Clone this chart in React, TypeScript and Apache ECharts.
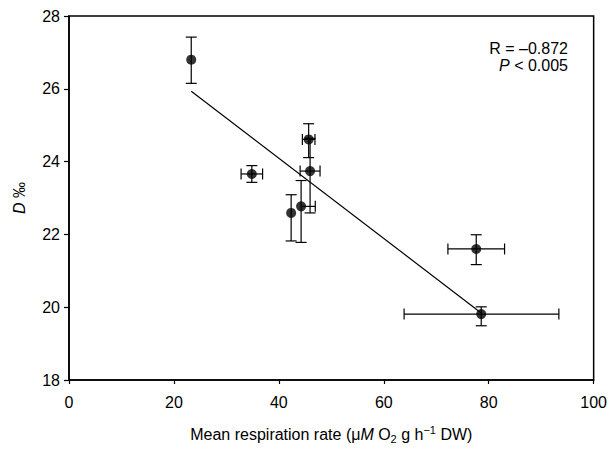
import React, { useEffect, useRef } from "react";
import * as echarts from "echarts";

// Mean respiration rate (x) and D ‰ (y)
const xVals = [23.3, 34.85, 45.68, 45.95, 44.24, 42.34, 77.62, 78.57];
const yVals = [26.8, 23.66, 24.61, 23.74, 22.77, 22.59, 21.6, 19.81];
const xErrLow = [0, 2.05, 1.2, 1.9, 0, 0, 5.4, 14.7];
const xErrHigh = [0, 2.05, 1.2, 1.9, 2.7, 0, 5.4, 14.8];
const yErrLow = [0.65, 0.23, 0.5, 1.15, 0.99, 0.77, 0.43, 0.32];
const yErrHigh = [0.62, 0.23, 0.43, 0.9, 0.71, 0.5, 0.39, 0.2];

// Regression line end points
const trendX = [23.3, 78.5];
const trendY = [25.93, 19.85];

const xTicks = [0, 20, 40, 60, 80, 100];
const yTicks = [18, 20, 22, 24, 26, 28];

const FONT = "'Liberation Sans', Arial, sans-serif";

export default function App() {
  const ref = useRef<HTMLDivElement>(null);
  useEffect(() => {
    if (!ref.current) return;
    const chart = echarts.init(ref.current, undefined, { renderer: "svg" });
    const errData = xVals.map((x, i) => [x, yVals[i], xErrLow[i], xErrHigh[i], yErrLow[i], yErrHigh[i]]);
    const pts = xVals.map((x, i) => [x, yVals[i]]);
    const trend = trendX.map((x, i) => [x, trendY[i]]);
    const lineStyle = { stroke: "#000", lineWidth: 1.2 };
    const cap = 5.5;
    chart.setOption({
      animation: false,
      textStyle: { fontFamily: FONT },
      grid: {
        left: 69,
        right: 15,
        top: 16,
        bottom: 65,
        show: true,
        borderColor: "#000",
        borderWidth: 1.5,
      },
      xAxis: {
        type: "value",
        min: xTicks[0],
        max: xTicks[xTicks.length - 1],
        interval: 20,
        splitLine: { show: false },
        axisLine: { show: true, lineStyle: { color: "#000", width: 1.5 } },
        axisTick: { show: true, length: 4, lineStyle: { color: "#000", width: 1.2 } },
        axisLabel: { color: "#000", fontSize: 16, margin: 14, fontFamily: FONT },
        name: "Mean respiration rate (μ{i|M} O{sub|2} g h{sup|−1} DW)",
        nameLocation: "middle",
        nameGap: 44,
        nameTextStyle: {
          color: "#000",
          fontSize: 16,
          fontFamily: FONT,
          lineHeight: 20,
          rich: {
            i: { fontStyle: "italic", fontSize: 16, color: "#000", fontFamily: FONT, lineHeight: 20 },
            sub: { fontSize: 11, color: "#000", fontFamily: FONT, verticalAlign: "bottom", lineHeight: 12, padding: [6, 0, 0, 0] },
            sup: { fontSize: 11, color: "#000", fontFamily: FONT, verticalAlign: "top", lineHeight: 12 },
          },
        },
      },
      yAxis: {
        type: "value",
        min: yTicks[0],
        max: yTicks[yTicks.length - 1],
        interval: 2,
        splitLine: { show: false },
        axisLine: { show: true, lineStyle: { color: "#000", width: 1.5 } },
        axisTick: { show: true, length: 5, lineStyle: { color: "#000", width: 1.2 } },
        axisLabel: { color: "#000", fontSize: 16, margin: 9, fontFamily: FONT },
        name: "{i|D} ‰",
        nameLocation: "middle",
        nameRotate: 90,
        nameGap: 42,
        nameTextStyle: {
          color: "#000",
          fontSize: 16,
          fontFamily: FONT,
          rich: { i: { fontStyle: "italic", fontSize: 16, color: "#000", fontFamily: FONT } },
        },
      },
      graphic: [
        {
          type: "text",
          right: 42,
          top: 40,
          style: {
            text: "R = –0.872",
            fill: "#000",
            font: `16px ${FONT}`,
            align: "right",
          },
        },
        {
          type: "text",
          right: 42,
          top: 57,
          style: {
            text: "{i|P} < 0.005",
            fill: "#000",
            font: `16px ${FONT}`,
            align: "right",
            rich: { i: { fontStyle: "italic", fontSize: 16, fontFamily: FONT, fill: "#000" } },
          },
        },
      ],
      series: [
        {
          type: "line",
          data: trend,
          symbol: "none",
          lineStyle: { color: "#000", width: 1.2 },
          z: 2,
        },
        {
          type: "custom",
          data: errData,
          encode: { x: 0, y: 1 },
          z: 3,
          renderItem: (params: any, api: any) => {
            const x = api.value(0);
            const y = api.value(1);
            const xl = api.value(2);
            const xh = api.value(3);
            const yl = api.value(4);
            const yh = api.value(5);
            const children: any[] = [];
            if (yl > 0 || yh > 0) {
              const t = api.coord([x, y + yh]);
              const b = api.coord([x, y - yl]);
              children.push({ type: "line", shape: { x1: t[0], y1: t[1], x2: b[0], y2: b[1] }, style: lineStyle });
              if (yh > 0) children.push({ type: "line", shape: { x1: t[0] - cap, y1: t[1], x2: t[0] + cap, y2: t[1] }, style: lineStyle });
              if (yl > 0) children.push({ type: "line", shape: { x1: b[0] - cap, y1: b[1], x2: b[0] + cap, y2: b[1] }, style: lineStyle });
            }
            if (xl > 0 || xh > 0) {
              const l = api.coord([x - xl, y]);
              const r = api.coord([x + xh, y]);
              children.push({ type: "line", shape: { x1: l[0], y1: l[1], x2: r[0], y2: r[1] }, style: lineStyle });
              if (xl > 0) children.push({ type: "line", shape: { x1: l[0], y1: l[1] - cap, x2: l[0], y2: l[1] + cap }, style: lineStyle });
              if (xh > 0) children.push({ type: "line", shape: { x1: r[0], y1: r[1] - cap, x2: r[0], y2: r[1] + cap }, style: lineStyle });
            }
            return { type: "group", children };
          },
        },
        {
          type: "scatter",
          data: pts,
          symbol: "circle",
          symbolSize: 10,
          itemStyle: { color: "#000" },
          z: 4,
        },
      ],
    });
    return () => chart.dispose();
  }, []);
  return <div ref={ref} style={{ width: 610, height: 449, position: "absolute", left: 0, top: 0 }} />;
}
